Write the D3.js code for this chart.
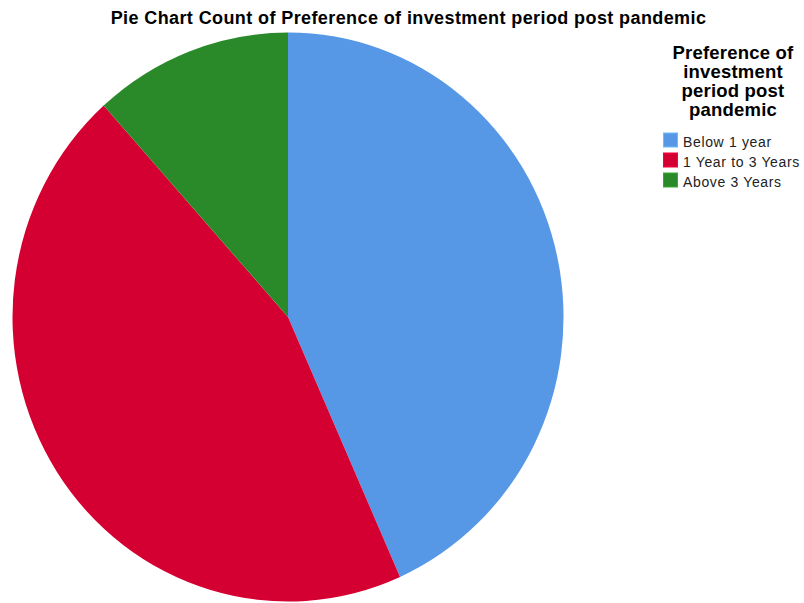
<!DOCTYPE html>
<html>
<head>
<meta charset="utf-8">
<script src="https://cdn.jsdelivr.net/npm/d3@7"></script>
<style>
  html, body { margin: 0; padding: 0; background: #fff; }
  svg { display: block; font-family: "Liberation Sans", Arial, sans-serif; }
</style>
</head>
<body>
<svg id="chart" width="804" height="603"></svg>
<script>
// Survey responses: preferred investment period after the pandemic
const categories = ["Below 1 year", "1 Year to 3 Years", "Above 3 Years"];
const counts = [26, 27, 7];
const colors = ["#5698E6", "#D50032", "#2A8A2A"];
const chartTitle = "Pie Chart Count of Preference of investment period post pandemic";
const legendTitle = ["Preference of", "investment", "period post", "pandemic"];

const svg = d3.select("#chart");

// Title
svg.append("text")
  .attr("x", 408.5)
  .attr("y", 23.5)
  .attr("text-anchor", "middle")
  .attr("font-size", 18)
  .attr("font-weight", "bold")
  .attr("letter-spacing", 0.4)
  .attr("fill", "#000")
  .text(chartTitle);

// Pie (slightly stretched vertically)
const cx = 288, cy = 317, rx = 275.5, ry = 284.5;
const color = d3.scaleOrdinal().domain(categories).range(colors);
const pie = d3.pie().value(d => d.count).sort(null);
const arc = d3.arc().innerRadius(0).outerRadius(rx);
const data = categories.map((c, i) => ({ category: c, count: counts[i] }));

const g = svg.append("g")
  .attr("transform", `translate(${cx},${cy}) scale(1,${ry / rx})`);

g.selectAll("path")
  .data(pie(data))
  .join("path")
  .attr("d", arc)
  .attr("fill", d => color(d.data.category));

// Legend
const legend = svg.append("g");
legend.selectAll("text.lt")
  .data(legendTitle)
  .join("text")
  .attr("class", "lt")
  .attr("x", 733)
  .attr("y", (d, i) => 59 + i * 19)
  .attr("text-anchor", "middle")
  .attr("font-size", 18.5)
  .attr("font-weight", "bold")
  .attr("letter-spacing", 0.2)
  .attr("fill", "#000")
  .text(d => d);

const items = legend.selectAll("g.item")
  .data(categories)
  .join("g")
  .attr("class", "item")
  .attr("transform", (d, i) => `translate(663.5,${133 + i * 20})`);

items.append("rect")
  .attr("width", 14)
  .attr("height", 14)
  .attr("fill", d => color(d))
  .attr("stroke", d => d3.color(color(d)).brighter(0.6))
  .attr("stroke-width", 1);

items.append("text")
  .attr("x", 19.5)
  .attr("y", 13.5)
  .attr("font-size", 14)
  .attr("letter-spacing", 0.65)
  .attr("fill", "#222")
  .text(d => d);
</script>
</body>
</html>
